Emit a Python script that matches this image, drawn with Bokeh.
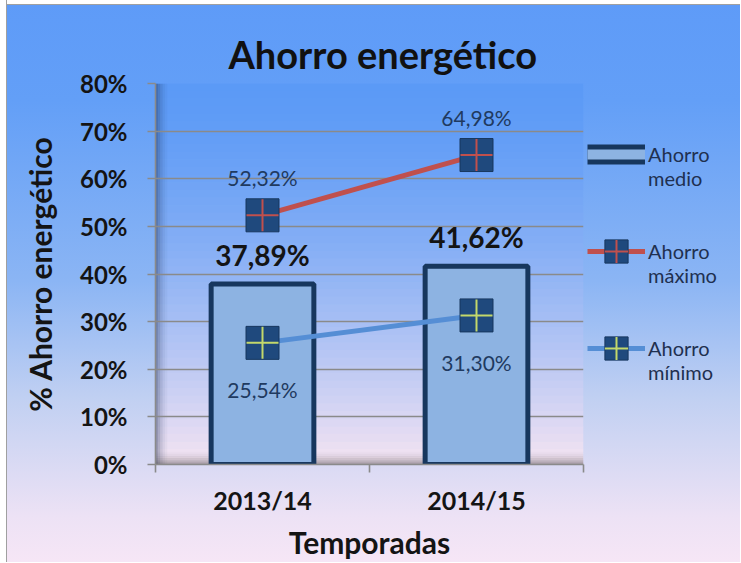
from bokeh.plotting import figure
from bokeh.layouts import row
from bokeh.models import (Range1d, FixedTicker, PrintfTickFormatter, BoxAnnotation,
                          Legend, LegendItem, ColumnDataSource)
from bokeh.embed import file_html
from bokeh.resources import INLINE
from bokeh.core.properties import value

# ---------------- data ----------------
categories = ["2013/14", "2014/15"]
ahorro_medio = [37.89, 41.62]
ahorro_maximo = [52.32, 64.98]
ahorro_minimo = [25.54, 31.30]
y_ticks = [0, 10, 20, 30, 40, 50, 60, 70, 80]
series_names = ["Ahorro\nmedio", "Ahorro\nmáximo", "Ahorro\nmínimo"]
title_text = "Ahorro energético"
y_title = "% Ahorro energético"
x_title = "Temporadas"

FONT = "Lato"
H = 562
W_MAIN, W_LEG = 585, 155
FL, FR, FT, FB = 155, 2, 83, 97

RED = "#c0504d"
BLUE = "#558ed5"
NAVY = "#1f497d"
DARK = "#17375e"
BARFILL = "#8db3e2"
GREEN = "#c3d86b"

GRAD = "linear-gradient(to bottom, #5e9bf8 0%, #639ff7 18%, #8bb5f4 50%, #c1d0f2 71%, #ede2f5 92%, #f6e6f6 100%)"
TOP_EDGE = "linear-gradient(to bottom, #ffffff 0px, #ffffff 4px, #a0a0a0 4px, #a0a0a0 5px, rgba(0,0,0,0) 5px)"
LEFT_EDGE = "linear-gradient(to right, #ffffff 0px, #ffffff 6px, #a0a0a0 6px, #a0a0a0 7px, rgba(0,0,0,0) 7px)"

def fmt(v):
    return ("%.2f" % v).replace(".", ",") + "%"

def mix(c1, c2, t):
    return "#%02x%02x%02x" % tuple(int(round(a + (b - a) * t)) for a, b in zip(c1, c2))

xs = [i + 0.5 for i in range(len(categories))]
src = ColumnDataSource(dict(
    x=xs, medio=ahorro_medio, maximo=ahorro_maximo, minimo=ahorro_minimo,
    medio_lbl=[fmt(v) for v in ahorro_medio],
    maximo_lbl=[fmt(v) for v in ahorro_maximo],
    minimo_lbl=[fmt(v) for v in ahorro_minimo],
))

p = figure(width=W_MAIN, height=H, x_range=Range1d(0, len(categories)),
           y_range=Range1d(y_ticks[0], y_ticks[-1]),
           output_backend="svg", toolbar_location=None,
           min_border_left=FL, min_border_right=FR,
           min_border_top=FT, min_border_bottom=FB)
p.border_fill_alpha = 0
p.background_fill_alpha = 0
p.outline_line_color = None
p.styles = {"background": LEFT_EDGE + ", " + TOP_EDGE + ", " + GRAD}

# ---------- plot-area gradient ----------
n_in = 50
ptop, pbot = (91, 154, 246), (245, 228, 242)
ymin, ymax = y_ticks[0], y_ticks[-1]
for i in range(n_in):
    y1 = ymax - (ymax - ymin) * i / n_in
    y0 = ymax - (ymax - ymin) * (i + 1) / n_in
    t = ((i + 0.5) / n_in) ** 1.5
    p.add_layout(BoxAnnotation(bottom=y0, top=y1 + 0.05, fill_color=mix(ptop, pbot, t),
                               fill_alpha=1.0, line_color=None, level="image"))

# left wall shading
for k, a in enumerate([0.42, 0.28, 0.17, 0.09, 0.04]):
    p.add_layout(BoxAnnotation(left=k * 0.011, right=(k + 1) * 0.011, fill_color="#1a2a50",
                               fill_alpha=a, line_color=None, level="image"))
# floor shading
for k, a in enumerate([0.40, 0.30, 0.20, 0.12, 0.06, 0.02]):
    p.add_layout(BoxAnnotation(bottom=k * 0.45, top=(k + 1) * 0.45, fill_color="#3a3a3a",
                               fill_alpha=a, line_color=None, level="image"))

# ---------- title ----------
p.title.text = title_text
p.title.align = "left"
p.title.offset = 73
p.title.standoff = 13
p.title.text_font = FONT
p.title.text_font_style = "bold"
p.title.text_font_size = "38px"
p.title.text_color = "#111111"

# ---------- grid & axes ----------
p.xgrid.visible = False
p.ygrid.ticker = FixedTicker(ticks=y_ticks)
p.ygrid.grid_line_color = "#8a8a8a"
p.ygrid.grid_line_width = 1.6

p.yaxis.ticker = FixedTicker(ticks=y_ticks)
p.yaxis.formatter = PrintfTickFormatter(format="%d%%")
p.yaxis.major_tick_out = 8
p.yaxis.major_tick_in = 0
p.yaxis.minor_tick_line_color = None
p.yaxis.axis_line_color = "#8a8a8a"
p.yaxis.axis_line_width = 1.6
p.yaxis.major_tick_line_color = "#8a8a8a"
p.yaxis.major_tick_line_width = 1.6
p.yaxis.major_label_text_font = FONT
p.yaxis.major_label_text_font_style = "bold"
p.yaxis.major_label_text_font_size = "24px"
p.yaxis.major_label_text_color = "#141414"
p.yaxis.major_label_standoff = 20
p.yaxis.axis_label = y_title
p.yaxis.axis_label_text_font = FONT
p.yaxis.axis_label_text_font_style = "bold"
p.yaxis.axis_label_text_font_size = "30px"
p.yaxis.axis_label_text_color = "#141414"
p.yaxis.axis_label_standoff = 19

p.xaxis.ticker = FixedTicker(ticks=xs, minor_ticks=list(range(len(categories) + 1)))
p.xaxis.major_label_overrides = {x: c for x, c in zip(xs, categories)}
p.xaxis.major_tick_out = 0
p.xaxis.major_tick_in = 0
p.xaxis.minor_tick_out = 8
p.xaxis.minor_tick_in = 0
p.xaxis.minor_tick_line_color = "#8a8a8a"
p.xaxis.minor_tick_line_width = 1.6
p.xaxis.axis_line_color = "#8a8a8a"
p.xaxis.axis_line_width = 1.6
p.xaxis.major_label_text_font = FONT
p.xaxis.major_label_text_font_style = "bold"
p.xaxis.major_label_text_font_size = "25px"
p.xaxis.major_label_text_color = "#141414"
p.xaxis.major_label_standoff = 12
p.xaxis.axis_label = x_title
p.xaxis.axis_label_text_font = FONT
p.xaxis.axis_label_text_font_style = "bold"
p.xaxis.axis_label_text_font_size = "30px"
p.xaxis.axis_label_text_color = "#141414"
p.xaxis.axis_label_standoff = 6

# ---------- glyphs ----------
p.vbar(x="x", top="medio", width=0.48, source=src, fill_color=BARFILL,
       line_color=DARK, line_width=5)
p.line("x", "maximo", source=src, line_color=RED, line_width=5)
p.line("x", "minimo", source=src, line_color=BLUE, line_width=5)
p.scatter("x", "maximo", source=src, marker="square", size=33, fill_color=NAVY,
          line_color=DARK, line_width=1)
p.scatter("x", "maximo", source=src, marker="cross", size=32, line_color=RED, line_width=2)
p.scatter("x", "minimo", source=src, marker="square", size=33, fill_color=NAVY,
          line_color=DARK, line_width=1)
p.scatter("x", "minimo", source=src, marker="cross", size=32, line_color=GREEN, line_width=2)

# data labels
p.text("x", "medio", text="medio_lbl", source=src, y_offset=-29, text_align="center",
       text_baseline="middle", text_font=value(FONT), text_font_style="bold",
       text_font_size="28px", text_color="#141414")
p.text("x", "maximo", text="maximo_lbl", source=src, y_offset=-38, text_align="center",
       text_baseline="middle", text_font=value(FONT), text_font_size="21px",
       text_color="#1f3a60")
p.text("x", "minimo", text="minimo_lbl", source=src, y_offset=47, text_align="center",
       text_baseline="middle", text_font=value(FONT), text_font_size="21px",
       text_color="#1f3a60")

# ---------- legend panel (same gradient, proxies kept outside its view) ----------
q = figure(width=W_LEG, height=H, x_range=Range1d(0, 1), y_range=Range1d(0, 1),
           output_backend="svg", toolbar_location=None,
           min_border_left=0, min_border_right=0, min_border_top=0, min_border_bottom=0)
q.axis.visible = False
q.grid.visible = False
q.outline_line_color = None
q.border_fill_alpha = 0
q.background_fill_alpha = 0
q.styles = {"background": TOP_EDGE + ", " + GRAD}

px, py = [-5, -4], [-5, -5]
m1 = q.line(px, py, line_color=DARK, line_width=20)
m2 = q.line(px, py, line_color=BARFILL, line_width=10)
a1 = q.line(px, py, line_color=RED, line_width=5)
a2 = q.scatter(px, py, marker="square", fill_color=NAVY, line_color=DARK, line_width=1)
a3 = q.scatter(px, py, marker="cross", line_color=RED, line_width=2)
b1 = q.line(px, py, line_color=BLUE, line_width=5)
b2 = q.scatter(px, py, marker="square", fill_color=NAVY, line_color=DARK, line_width=1)
b3 = q.scatter(px, py, marker="cross", line_color=GREEN, line_width=2)

# leading blank line keeps each swatch level with the first text line
legend = Legend(items=[
    LegendItem(label="\n" + series_names[0], renderers=[m1, m2]),
    LegendItem(label="\n" + series_names[1], renderers=[a1, a2, a3]),
    LegendItem(label="\n" + series_names[2], renderers=[b1, b2, b3]),
], location=(2, 80), glyph_width=58, glyph_height=62, label_standoff=3,
    spacing=25, padding=0, margin=0, background_fill_alpha=0, border_line_color=None,
    label_text_font=FONT, label_text_font_size="20px", label_text_color="#1f3050")
q.add_layout(legend, "center")

layout = row(p, q, spacing=0)
open("out.html", "w").write(file_html(layout, INLINE))
